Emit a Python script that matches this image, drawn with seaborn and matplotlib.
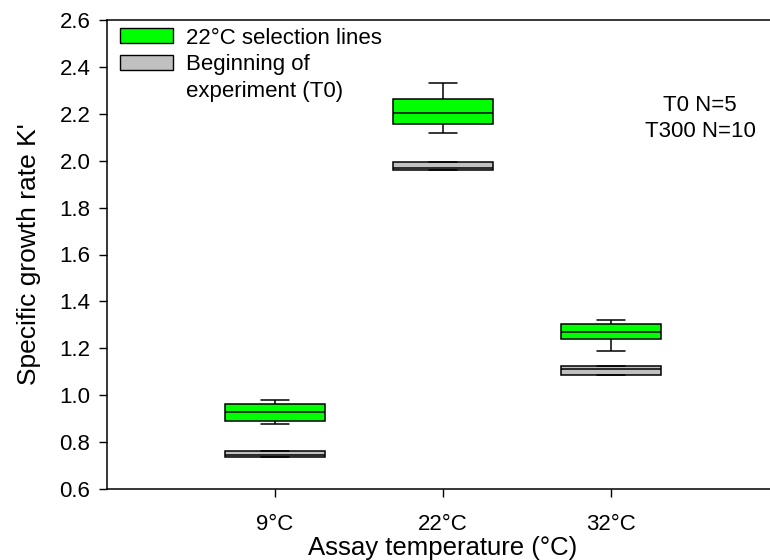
import numpy as np
import pandas as pd
import seaborn as sns
import matplotlib.pyplot as plt
from matplotlib.patches import Patch

# ---- data (five-number summaries) ----
temps = ["9°C", "22°C", "32°C"]
groups = ["22°C selection lines", "Beginning of experiment (T0)"]

# whisker low, Q1, median, Q3, whisker high
sel_9 = [0.876, 0.890, 0.927, 0.962, 0.980]
sel_22 = [2.117, 2.157, 2.202, 2.262, 2.330]
sel_32 = [1.188, 1.240, 1.268, 1.304, 1.322]
t0_9 = [0.736, 0.736, 0.745, 0.761, 0.761]
t0_22 = [1.960, 1.960, 1.969, 1.993, 1.993]
t0_32 = [1.085, 1.085, 1.110, 1.125, 1.125]

colors = {groups[0]: "#00ff00", groups[1]: "#c0c0c0"}

rows = []
for grp, series in [(groups[0], [sel_9, sel_22, sel_32]),
                    (groups[1], [t0_9, t0_22, t0_32])]:
    for t, vals in zip(temps, series):
        for v in vals:
            rows.append({"temp": t, "group": grp, "rate": v})
df = pd.DataFrame(rows)

sns.set_style("ticks")
plt.rcParams["font.family"] = ["Liberation Sans", "DejaVu Sans"]
plt.rcParams["text.color"] = "black"
plt.rcParams["axes.labelcolor"] = "black"
plt.rcParams["xtick.color"] = "black"
plt.rcParams["ytick.color"] = "black"

fig = plt.figure(figsize=(7.7, 5.6), dpi=100)
ax = fig.add_axes([107 / 770, 71 / 560, 672 / 770, 469 / 560])

sns.boxplot(data=df, x="temp", y="rate", hue="group", order=temps,
            hue_order=groups, palette=colors, saturation=1, dodge=False,
            width=0.6, whis=(0, 100), linecolor="black", linewidth=1.1,
            legend=False, ax=ax, capwidths=0.167)

ax.set_xlim(-1, 3)
ax.set_ylim(0.6, 2.6)
ax.set_yticks(np.arange(0.6, 2.61, 0.2))
ax.set_yticklabels([f"{v:.1f}" for v in np.arange(0.6, 2.61, 0.2)])
ax.tick_params(axis="both", labelsize=16, length=6, width=1,
               direction="out", colors="black")
ax.tick_params(axis="x", pad=12)
ax.tick_params(axis="y", pad=6)
ax.set_xlabel("Assay temperature (°C)", fontsize=18.5, labelpad=1)
ax.set_ylabel("Specific growth rate K'", fontsize=19, labelpad=13)
for s in ax.spines.values():
    s.set_linewidth(1.1)
    s.set_color("black")
ax.spines["right"].set_visible(False)

handles = [Patch(facecolor=colors[groups[0]], edgecolor="black", linewidth=1),
           Patch(facecolor=colors[groups[1]], edgecolor="black", linewidth=1),
           Patch(facecolor="none", edgecolor="none")]
labels = ["22°C selection lines", "Beginning of", "experiment (T0)"]
ax.legend(handles, labels, loc="upper left", bbox_to_anchor=(0.0, 1.012),
          frameon=False, fontsize=16, handlelength=2.35, handleheight=0.65,
          labelspacing=0.25, handletextpad=0.6, borderaxespad=0.2)

ax.text(2.53, 2.18, "T0 N=5\nT300 N=10", ha="center", va="center",
        fontsize=16, linespacing=1.32)

fig.savefig("out.png", dpi=100)
